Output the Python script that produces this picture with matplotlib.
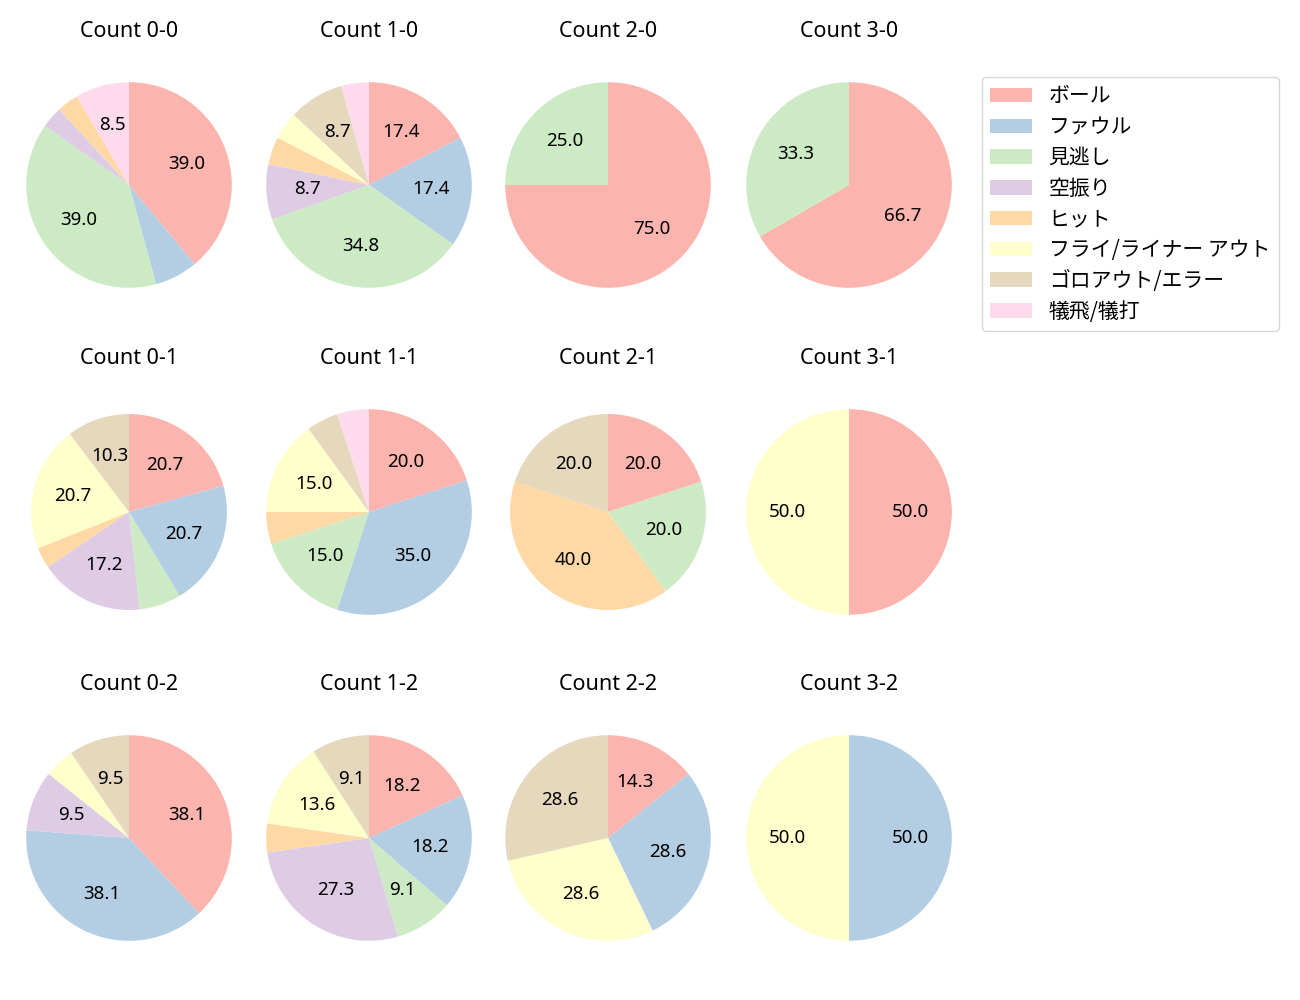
import numpy as np
import matplotlib
matplotlib.use("Agg")
import matplotlib.pyplot as plt
from matplotlib.patches import Patch

plt.rcParams['font.family'] = ['Noto Sans', 'Noto Sans CJK JP', 'DejaVu Sans']
plt.rcParams['font.size'] = 12

# 球種結果カテゴリ
categories = ["ボール", "ファウル", "見逃し", "空振り", "ヒット",
              "フライ/ライナー アウト", "ゴロアウト/エラー", "犠飛/犠打"]

# カウントごとの件数（カテゴリ順）
count_labels = ["0-0", "1-0", "2-0", "3-0",
                "0-1", "1-1", "2-1", "3-1",
                "0-2", "1-2", "2-2", "3-2"]
count_values = [
    [23, 4, 23, 2, 2, 0, 0, 5],
    [4, 4, 8, 2, 1, 1, 2, 1],
    [3, 0, 1, 0, 0, 0, 0, 0],
    [2, 0, 1, 0, 0, 0, 0, 0],
    [6, 6, 2, 5, 1, 6, 3, 0],
    [4, 7, 3, 0, 1, 3, 1, 1],
    [1, 0, 1, 0, 2, 0, 1, 0],
    [1, 0, 0, 0, 0, 1, 0, 0],
    [8, 8, 0, 2, 0, 1, 2, 0],
    [4, 4, 2, 6, 1, 3, 2, 0],
    [1, 2, 0, 0, 0, 2, 2, 0],
    [0, 1, 0, 0, 0, 1, 0, 0],
]

colors = plt.get_cmap('Pastel1').colors[:len(categories)]

W, H = 1300, 1000
fig = plt.figure(figsize=(W / 100, H / 100), dpi=100)

col_cx = [129, 369, 608, 849]
row_cy = [185, 512, 838]
size = 257
# 元図では一部の円が少し小さい
small = {"0-1", "2-1"}


def autopct(p):
    return f"{p:.1f}" if p >= 8 else ""


for i, (label, vals) in enumerate(zip(count_labels, count_values)):
    r, c = divmod(i, 4)
    cx, cy = col_cx[c], row_cy[r]
    ax = fig.add_axes([(cx - size / 2) / W, 1 - (cy + size / 2) / H, size / W, size / H])
    rad = 0.953 if label in small else 1.0
    ax.pie(vals, colors=colors, startangle=90, counterclock=False, radius=rad,
           autopct=autopct, pctdistance=0.6, textprops={'fontsize': 13.5})
    ax.set_xlim(-1.25, 1.25)
    ax.set_ylim(-1.25, 1.25)
    ax.set_title(f"Count {label}", fontsize=15.5, pad=14)

handles = [Patch(facecolor=col, label=cat) for col, cat in zip(colors, categories)]
fig.legend(handles=handles, loc='upper left', bbox_to_anchor=(982 / W, 1 - 77 / H),
           borderaxespad=0, handlelength=2.0, labelspacing=0.42,
           prop={'family': ['Noto Sans CJK JP', 'DejaVu Sans'], 'size': 15})

fig.savefig("out.png", dpi=100)
